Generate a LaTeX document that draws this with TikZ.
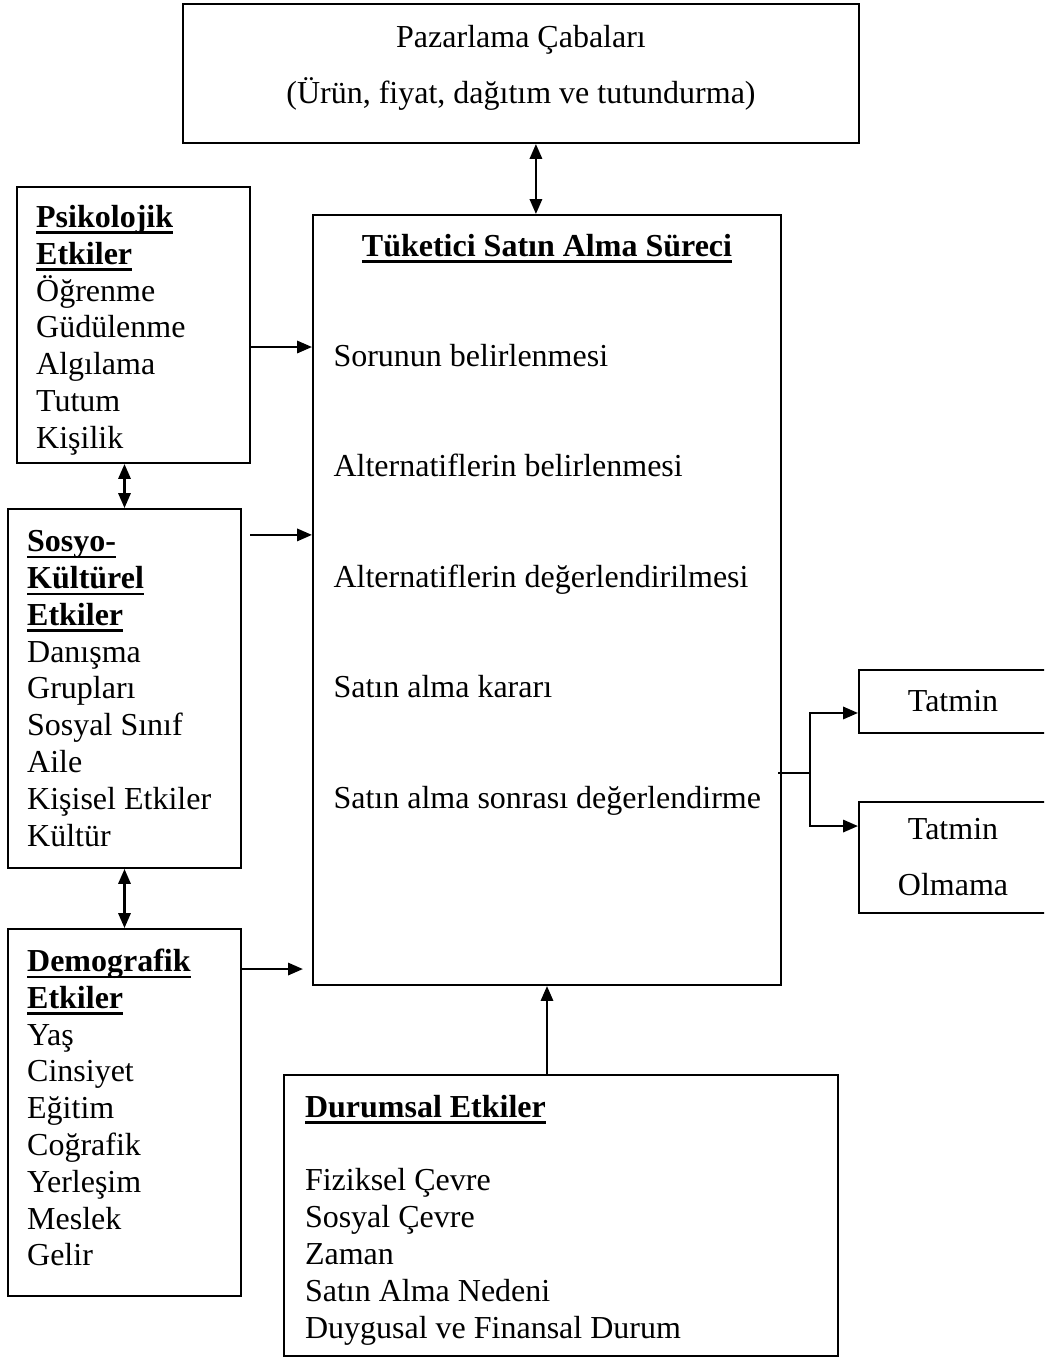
\documentclass[tikz,border=0pt]{standalone}
\usepackage{fontspec}
\setmainfont{Liberation Serif}
\usetikzlibrary{positioning,arrows.meta,calc}

% bold underlined heading
\newcommand{\altcizgi}[1]{\leavevmode\setbox0\hbox{\textbf{#1}}\rlap{\rule[-2.5pt]{\wd0}{1pt}}\box0}

\tikzset{
  kutu/.style={draw, line width=0.75pt, rectangle, inner sep=0pt},
  etki/.style={kutu, align=flush left, text width=73pt, inner xsep=7.2pt, minimum width=87.4pt},
  adim/.style={anchor=base west, inner sep=0pt},
  ok/.style={line width=0.9pt, -{Triangle[length=5.6pt,width=4.6pt]}},
  cift/.style={line width=0.9pt, {Triangle[length=5.6pt,width=4.6pt]}-{Triangle[length=5.6pt,width=4.6pt]}},
}

\begin{document}
\begin{tikzpicture}[x=0.375pt, y=-0.375pt, font=\fontsize{12pt}{13.8pt}\selectfont]

  \useasboundingbox (0,0) rectangle (1044,1358);
  \clip (0,0) rectangle (1044,1358);

  % Define nodes
  \node[kutu, align=center, minimum width=253.5pt, minimum height=52.1pt, text depth=7pt,
        font=\fontsize{12pt}{21pt}\selectfont] (pazar) at (521,73.5)
        {Pazarlama Çabaları\\ (Ürün, fiyat, dağıtım ve tutundurma)};
  \node[kutu, minimum width=175.5pt, minimum height=288.75pt] (surec) at (547,600) {};
  \node[anchor=base, inner sep=0pt] (baslik) at (547,256) {\altcizgi{Tüketici Satın Alma Süreci}};
  \node[adim] (s1) at (333,366) {Sorunun belirlenmesi};
  \node[adim] (s2) at (333,476) {Alternatiflerin belirlenmesi};
  \node[adim] (s3) at (333,587) {Alternatiflerin değerlendirilmesi};
  \node[adim] (s4) at (333,697) {Satın alma kararı};
  \node[adim] (s5) at (333,808) {Satın alma sonrası değerlendirme};

  \node[etki, minimum height=103.5pt, text depth=81.5pt] (psik) at (133.5,325)
        {\altcizgi{Psikolojik}\\ \altcizgi{Etkiler}\\ Öğrenme\\ Güdülenme\\ Algılama\\ Tutum\\ Kişilik};
  \node[etki, minimum height=134.6pt] (sosyo) at (124.5,688.5)
        {\altcizgi{Sosyo-}\\ \altcizgi{Kültürel}\\ \altcizgi{Etkiler}\\ Danışma\\ Grupları\\ Sosyal Sınıf\\ Aile\\ Kişisel Etkiler\\ Kültür};
  \node[etki, minimum height=137.6pt, text depth=114.2pt] (demo) at (124.5,1112.5)
        {\altcizgi{Demografik}\\ \altcizgi{Etkiler}\\ Yaş\\ Cinsiyet\\ Eğitim\\ Coğrafik\\ Yerleşim\\ Meslek\\ Gelir};
  \node[kutu, align=flush left, text width=192pt, inner xsep=7.9pt, minimum height=105.4pt, text depth=82pt] (durum) at (561,1215.5)
        {\altcizgi{Durumsal Etkiler}\\[13.8pt] Fiziksel Çevre\\ Sosyal Çevre\\ Zaman\\ Satın Alma Nedeni\\ Duygusal ve Finansal Durum};

  \node[kutu, minimum width=70.5pt, minimum height=23.6pt] (tatmin) at (953,701.5) {Tatmin};
  \node[kutu, align=center, minimum width=70.5pt, minimum height=41.6pt,
        font=\fontsize{12pt}{21pt}\selectfont] (olmama) at (953,857.5) {Tatmin\\ Olmama};

  % Connect the nodes
  \coordinate (pz) at ([xshift=5.6pt]pazar.south);
  \draw[cift] (pz) -- (pz |- surec.north);
  \draw[ok] ([yshift=-8.25pt]psik.east) -- ([yshift=-8.25pt]psik.east -| surec.west);
  \draw[cift] (sosyo.north) -- (sosyo.north |- psik.south);
  \coordinate (so) at ([xshift=3pt,yshift=57.6pt]sosyo.east);
  \draw[ok] (so) -- (so -| surec.west);
  \draw[cift] (sosyo.south) -- (demo.north);
  \coordinate (de) at ([yshift=53.8pt]demo.east);
  \draw[ok] (de) -- ($(de -| surec.west)+(-3.4pt,0)$);
  \draw[ok] (durum.north -| surec.south) -- (surec.south);

  % Outcome
  \coordinate (catal) at (810,773);
  \draw[line width=0.9pt] ($(surec.east |- catal)+(-1.5pt,0)$) -- (catal);
  \draw[ok] (catal) |- ([yshift=-4.3pt]tatmin.west);
  \draw[ok] (catal) |- ([yshift=11.8pt]olmama.west);

\end{tikzpicture}
\end{document}
